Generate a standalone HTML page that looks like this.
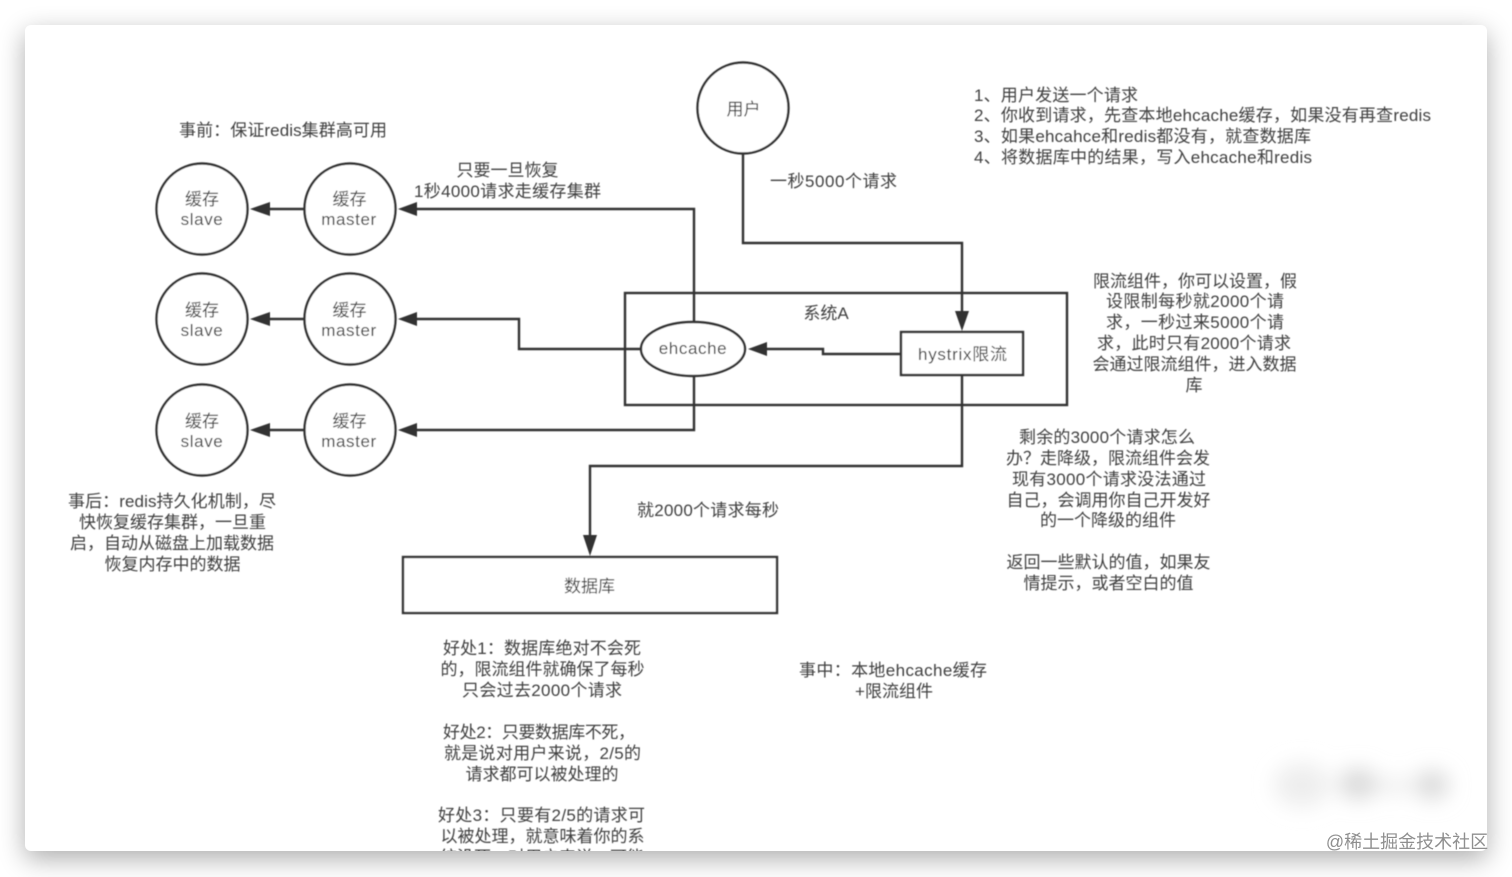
<!DOCTYPE html>
<html lang="zh">
<head>
<meta charset="utf-8">
<style>
html,body{margin:0;padding:0;background:#fff;width:1512px;height:877px;overflow:hidden}
#card{position:absolute;left:25px;top:25px;width:1462px;height:826px;background:#fff;border-radius:6px;box-shadow:0 8px 26px rgba(0,0,0,.32)}
svg{position:absolute;left:0;top:0}
text{font-family:"Liberation Sans","Noto Sans CJK TC",sans-serif;font-size:17px;fill:#404040;text-anchor:middle}
.l text,text.l{text-anchor:start}
.s{fill:none;stroke:#333;stroke-width:2.4}
.w{fill:#fff;stroke:#333;stroke-width:2.4}
.a{fill:#333;stroke:none}
</style>
</head>
<body>
<div id="card"></div>
<svg width="1512" height="877" viewBox="0 0 1512 877" xmlns="http://www.w3.org/2000/svg">
<defs>
<clipPath id="c"><rect x="25" y="25" width="1462" height="826" rx="6"/></clipPath>
<filter id="b" x="-2%" y="-2%" width="104%" height="104%"><feGaussianBlur stdDeviation="0.6"/></filter>
<filter id="bb" x="-30%" y="-60%" width="160%" height="220%"><feGaussianBlur stdDeviation="10"/></filter>
</defs>
<g clip-path="url(#c)">
<g filter="url(#b)">
<!-- system box -->
<rect class="s" x="625" y="293" width="442" height="112"/>
<!-- connectors -->
<path class="s" d="M743 153V243H962V312"/>
<path class="a" d="M955 311H969L962 331Z"/>
<path class="s" d="M962 376V466H590V536"/>
<path class="a" d="M583 535H597L590 556Z"/>
<path class="s" d="M694 322V209H415"/>
<path class="s" d="M641 349H519V319H415"/>
<path class="s" d="M694 375V430H415"/>
<path class="a" d="M398 209L417 202V216Z"/>
<path class="a" d="M398 319L417 312V326Z"/>
<path class="a" d="M398 430L417 423V437Z"/>
<path class="s" d="M901 354H823V349H765"/>
<path class="a" d="M748 349L767 342V356Z"/>
<path class="s" d="M304 209H268M304 319H268M304 430H268"/>
<path class="a" d="M250 209L270 202V216Z"/>
<path class="a" d="M250 319L270 312V326Z"/>
<path class="a" d="M250 430L270 423V437Z"/>
<!-- nodes -->
<circle class="w" cx="743" cy="108" r="45.5"/>
<circle class="w" cx="202" cy="209" r="45.5"/>
<circle class="w" cx="350" cy="209" r="45.5"/>
<circle class="w" cx="202" cy="319" r="45.5"/>
<circle class="w" cx="350" cy="319" r="45.5"/>
<circle class="w" cx="202" cy="430" r="45.5"/>
<circle class="w" cx="350" cy="430" r="45.5"/>
<ellipse class="w" cx="693" cy="349" rx="52" ry="27"/>
<rect class="w" x="901" y="332" width="122" height="43"/>
<rect class="w" x="403" y="557" width="374" height="56"/>
<!-- node labels -->
<text x="743.5" y="115">用户</text>
<text x="202" y="205">缓存</text><text x="202" y="225" letter-spacing=".6">slave</text>
<text x="349.5" y="205">缓存</text><text x="349" y="225" letter-spacing=".6">master</text>
<text x="202" y="316">缓存</text><text x="202" y="336" letter-spacing=".6">slave</text>
<text x="349.5" y="316">缓存</text><text x="349" y="336" letter-spacing=".6">master</text>
<text x="202" y="427">缓存</text><text x="202" y="447" letter-spacing=".6">slave</text>
<text x="349.5" y="427">缓存</text><text x="349" y="447" letter-spacing=".6">master</text>
<text x="693" y="354" letter-spacing=".6">ehcache</text>
<text x="962.5" y="360" textLength="89">hystrix限流</text>
<text x="826" y="319">系统A</text>
<text x="589.5" y="592">数据库</text>
<!-- notes -->
<text x="283" y="136" textLength="208">事前：保证redis集群高可用</text>
<text x="507.5" y="176">只要一旦恢复</text>
<text x="507.5" y="197" textLength="187">1秒4000请求走缓存集群</text>
<text x="833.5" y="187" textLength="127">一秒5000个请求</text>
<g class="l">
<text x="974" y="101" textLength="164">1、用户发送一个请求</text>
<text x="974" y="121" textLength="457">2、你收到请求，先查本地ehcache缓存，如果没有再查redis</text>
<text x="974" y="142" textLength="337">3、如果ehcahce和redis都没有，就查数据库</text>
<text x="974" y="163" textLength="338">4、将数据库中的结果，写入ehcache和redis</text>
</g>
<text x="1195" y="287">限流组件，你可以设置，假</text>
<text x="1195" y="307" textLength="178">设限制每秒就2000个请</text>
<text x="1195" y="328" textLength="178">求，一秒过来5000个请</text>
<text x="1194" y="349" textLength="194">求，此时只有2000个请求</text>
<text x="1194.5" y="370">会通过限流组件，进入数据</text>
<text x="1194" y="391">库</text>
<text x="1107" y="443" textLength="176">剩余的3000个请求怎么</text>
<text x="1108" y="464">办？走降级，限流组件会发</text>
<text x="1109" y="485" textLength="194">现有3000个请求没法通过</text>
<text x="1108.5" y="506">自己，会调用你自己开发好</text>
<text x="1108" y="526">的一个降级的组件</text>
<text x="1108.5" y="568">返回一些默认的值，如果友</text>
<text x="1108.5" y="589">情提示，或者空白的值</text>
<text x="172" y="507" textLength="208">事后：redis持久化机制，尽</text>
<text x="172.5" y="528">快恢复缓存集群，一旦重</text>
<text x="172" y="549">启，自动从磁盘上加载数据</text>
<text x="172.5" y="570">恢复内存中的数据</text>
<text x="708" y="516" textLength="142">就2000个请求每秒</text>
<text x="542" y="654" textLength="198">好处1：数据库绝对不会死</text>
<text x="542.5" y="675">的，限流组件就确保了每秒</text>
<text x="542" y="696" textLength="160">只会过去2000个请求</text>
<text x="539" y="738" textLength="192">好处2：只要数据库不死，</text>
<text x="542.5" y="759" textLength="197">就是说对用户来说，2/5的</text>
<text x="542" y="780">请求都可以被处理的</text>
<text x="541.5" y="821" textLength="207">好处3：只要有2/5的请求可</text>
<text x="542.5" y="842">以被处理，就意味着你的系</text>
<text x="542" y="863">统没死，对用户来说，可能</text>
<text x="893" y="676" textLength="188">事中：本地ehcache缓存</text>
<text x="894" y="697" textLength="78">+限流组件</text>
</g>
<!-- blurred watermark -->
<g filter="url(#bb)" fill="#dcdcdc">
<ellipse cx="1302" cy="785" rx="28" ry="22" fill="#eeeeee"/>
<ellipse cx="1358" cy="784" rx="20" ry="16"/>
<ellipse cx="1395" cy="786" rx="20" ry="8" fill="#eeeeee"/>
<ellipse cx="1432" cy="785" rx="17" ry="15"/>
</g>
</g>
<text x="1407" y="848" style="font-size:18px;fill:#8f8f8f">@稀土掘金技术社区</text>
</svg>
</body>
</html>
